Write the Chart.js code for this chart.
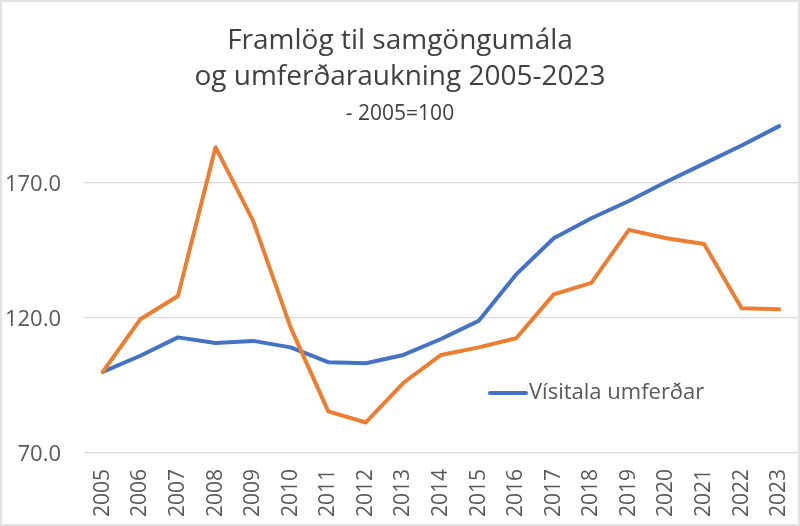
<!DOCTYPE html>
<html>
<head>
<meta charset="utf-8">
<script src="https://cdn.jsdelivr.net/npm/chart.js@4"></script>
<style>
  html, body { margin: 0; padding: 0; background: #fff; }
  #wrap { width: 800px; height: 526px; box-sizing: border-box; border: 2px solid #e2e2e2; }
  canvas { display: block; }
</style>
</head>
<body>
<div id="wrap"><canvas id="chart" width="796" height="522"></canvas></div>
<script>
const years = ["2005", "2006", "2007", "2008", "2009", "2010", "2011", "2012", "2013", "2014",
  "2015", "2016", "2017", "2018", "2019", "2020", "2021", "2022", "2023"];

// Vísitala umferðar (blue)
const umferd = [100, 106.0, 112.8, 110.7, 111.5, 109.1, 103.6, 103.2, 106.3, 112.2,
  118.9, 136.1, 149.5, 156.9, 163.3, 170.4, 177.1, 183.8, 191.0];

// Framlög til samgöngumála (orange)
const framlog = [100, 119.5, 128.1, 183.2, 155.9, 116.4, 85.4, 81.3, 96.0, 106.3,
  109.1, 112.5, 128.7, 133.0, 152.6, 149.5, 147.4, 123.6, 123.2];

const yTicks = [70, 120, 170];

const FONT = "'Open Sans', sans-serif";
const textColor = "#595959";

// legend drawn inside the plot, only for the traffic series
const inlineLegend = {
  id: "inlineLegend",
  afterDatasetsDraw(chart, args, opts) {
    const ds = chart.data.datasets[opts.datasetIndex];
    const ctx = chart.ctx;
    ctx.save();
    ctx.strokeStyle = ds.borderColor;
    ctx.lineWidth = ds.borderWidth;
    ctx.lineCap = "round";
    ctx.beginPath();
    ctx.moveTo(opts.x, opts.y);
    ctx.lineTo(opts.x + opts.lineLength, opts.y);
    ctx.stroke();
    ctx.fillStyle = textColor;
    ctx.font = opts.fontSize + "px " + FONT;
    ctx.textBaseline = "middle";
    ctx.fillText(ds.label, opts.x + opts.lineLength + opts.gap, opts.y);
    ctx.restore();
  }
};

new Chart(document.getElementById("chart"), {
  type: "line",
  data: {
    labels: years,
    datasets: [
      {
        label: "Vísitala umferðar",
        data: umferd,
        borderColor: "#4472C4",
        backgroundColor: "#4472C4",
        borderWidth: 4,
        pointRadius: 0,
        borderCapStyle: "round",
        borderJoinStyle: "round",
        order: 2
      },
      {
        label: "Framlög til samgöngumála",
        data: framlog,
        borderColor: "#ED7D31",
        backgroundColor: "#ED7D31",
        borderWidth: 4,
        pointRadius: 0,
        borderCapStyle: "round",
        borderJoinStyle: "round",
        order: 1
      }
    ]
  },
  options: {
    responsive: false,
    animation: false,
    layout: { padding: 0 },
    plugins: {
      legend: { display: false },
      tooltip: { enabled: false },
      title: {
        display: true,
        text: ["Framlög til samgöngumála", "og umferðaraukning 2005-2023"],
        color: "#404040",
        font: { family: FONT, size: 28, weight: "normal", lineHeight: 1.3 },
        padding: { top: 20.8, bottom: 0 }
      },
      subtitle: {
        display: true,
        text: "- 2005=100",
        color: "#404040",
        font: { family: FONT, size: 21, weight: "normal", lineHeight: 1.2 },
        padding: { top: 5.5, bottom: -24.5 }
      },
      inlineLegend: { datasetIndex: 0, x: 488, y: 391, lineLength: 36, gap: 3, fontSize: 22 }
    },
    scales: {
      x: {
        offset: true,
        grid: { display: false, drawTicks: false },
        border: { display: false },
        ticks: {
          color: textColor,
          font: { family: FONT, size: 21 },
          minRotation: 90,
          maxRotation: 90,
          padding: 16,
          autoSkip: false
        },
        afterFit: s => { s.height = 71; s.paddingLeft = 0; s.paddingRight = 0; }
      },
      y: {
        min: 70,
        max: 200,
        grid: { color: "#d9d9d9", lineWidth: 1.3, drawTicks: false },
        border: { display: false },
        ticks: {
          color: textColor,
          font: { family: FONT, size: 22 },
          padding: 23,
          labelOffset: 2,
          callback: v => v.toFixed(1)
        },
        afterBuildTicks: s => { s.ticks = yTicks.map(v => ({ value: v })); },
        afterFit: s => { s.width = 82; }
      }
    }
  },
  plugins: [inlineLegend]
});
</script>
</body>
</html>
